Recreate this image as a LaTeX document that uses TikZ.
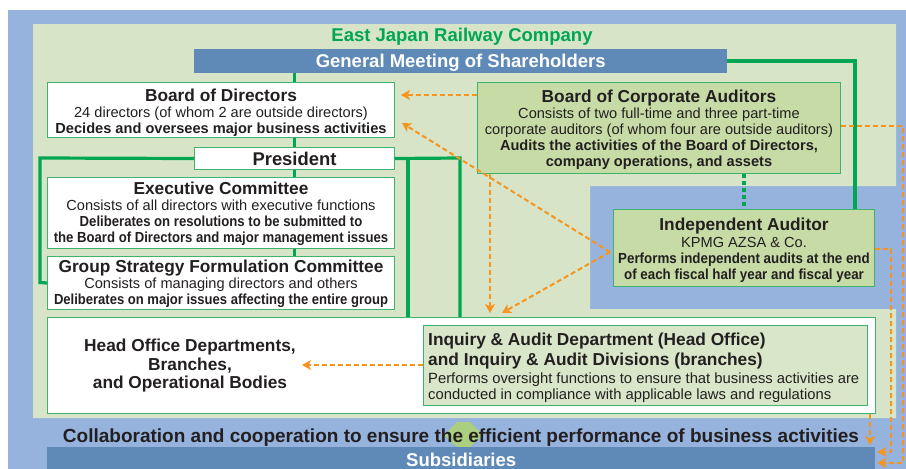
\documentclass[tikz,border=0pt]{standalone}
\usepackage{fontspec}
\usepackage{graphicx}
\setmainfont{Liberation Sans}
\usetikzlibrary{arrows.meta}
\definecolor{outblue}{HTML}{95B3DD}
\definecolor{areagreen}{HTML}{D8E4C8}
\definecolor{barblue}{HTML}{5F8AB7}
\definecolor{lgreen}{HTML}{00A651}
\definecolor{bgreen}{HTML}{3DB36E}
\definecolor{afill}{HTML}{C7DBA6}
\definecolor{ifill}{HTML}{D9E6C9}
\definecolor{oorange}{HTML}{F7941D}
\definecolor{txt}{HTML}{231F20}
\definecolor{hexgreen}{HTML}{A9CF7F}
\newcommand\boxtitle{\fontsize{17.3}{17}\selectfont\bfseries}
\newcommand\bigtitle{\fontsize{18.5}{20}\selectfont\bfseries}
\newcommand\narrowbf[2][0.9]{\scalebox{#1}[1]{\bfseries #2}}
\tikzset{
  wbox/.style={draw=bgreen, line width=1pt, fill=white, inner sep=0pt, anchor=north west},
  abox/.style={wbox, fill=afill},
  btext/.style={align=center, inner sep=0pt},
  bar/.style={fill=barblue, inner sep=0pt, anchor=north west, text=white, font=\bigtitle},
  gline/.style={draw=lgreen, line width=3.2pt},
  gdot/.style={draw=lgreen, line width=4pt, dash pattern=on 4pt off 3pt},
  oline/.style={draw=oorange, line width=2pt, dash pattern=on 5pt off 3pt},
  oarrow/.style={oline, -{Stealth[length=9pt,width=10pt,inset=2.5pt]}},
}
\begin{document}
\begin{tikzpicture}[x=1pt, y=-1pt, font=\fontsize{14.6}{16}\selectfont, text=txt]
\useasboundingbox (0,0) rectangle (906,469);
% backgrounds
\fill[outblue] (8,10) rectangle (906,469);
\fill[areagreen] (33,24) -- (896,24) -- (896,186) -- (590,186) -- (590,309) -- (896,309) -- (896,418) -- (33,418) -- cycle;
\fill[hexgreen] (444,435) -- (457,422) -- (470,422) -- (483,435) -- (470,447) -- (457,447) -- cycle;
% title and bars
\node[text=lgreen, font=\bigtitle] (co) at (462,37) {East Japan Railway Company};
\node[bar, minimum width=533pt, minimum height=24pt, text depth=0pt] (gm) at (194,49) {General Meeting of Shareholders};
\node[bar, minimum width=828pt, minimum height=26pt] (subs) at (47,447) {Subsidiaries};
\node[font=\fontsize{19}{20}\selectfont\bfseries] (collab) at (461,438) {Collaboration and cooperation to ensure the efficient performance of business activities};
% boxes
\node[wbox, minimum width=347pt, minimum height=55pt] (bod) at (47,82) {};
\node[btext] (bodtext) at ([yshift=-2.5pt]bod.center)
  {{\boxtitle Board of Directors}\\24 directors (of whom 2 are outside directors)\\\textbf{Decides and oversees major business activities}};
\node[wbox, minimum width=200pt, minimum height=22pt, font=\fontsize{18.4}{20}\selectfont\bfseries] (pres) at (194,147) {President};
\node[wbox, minimum width=347pt, minimum height=71pt] (exec) at (47,177) {};
\node[btext] (exectext) at ([yshift=-0.5pt]exec.center)
  {{\boxtitle Executive Committee}\\Consists of all directors with executive functions\\\narrowbf{Deliberates on resolutions to be submitted to}\\\narrowbf{the Board of Directors and major management issues}};
\node[wbox, minimum width=347pt, minimum height=53pt] (gsc) at (47,256) {};
\node[btext] (gsctext) at ([yshift=-0.5pt]gsc.center)
  {{\boxtitle Group Strategy Formulation Committee}\\Consists of managing directors and others\\\narrowbf[0.893]{Deliberates on major issues affecting the entire group}};
\node[abox, minimum width=363pt, minimum height=91pt] (bca) at (477,82) {};
\node[btext] (bcatext) at ([yshift=-2pt]bca.center)
  {{\boxtitle Board of Corporate Auditors}\\Consists of two full-time and three part-time\\corporate auditors (of whom four are outside auditors)\\\textbf{Audits the activities of the Board of Directors,}\\\textbf{company operations, and assets}};
\node[abox, minimum width=261pt, minimum height=77pt] (ia) at (613,209) {};
\node[btext] (iatext) at ([yshift=-2pt]ia.center)
  {{\boxtitle Independent Auditor}\\[1pt]KPMG AZSA \& Co.\\\narrowbf[0.915]{Performs independent audits at the end}\\\narrowbf[0.915]{of each fiscal half year and fiscal year}};
\node[wbox, minimum width=828pt, minimum height=96pt] (ho) at (47,317) {};
\node[font=\fontsize{17.3}{18.5}\selectfont\bfseries, align=center] (hotext) at (190,366)
  {Head Office Departments,\\Branches,\\and Operational Bodies};
\node[wbox, fill=ifill, minimum width=444pt, minimum height=80pt] (iad) at (423,325) {};
\node[align=left, inner sep=0pt, anchor=west, font=\fontsize{14.8}{16}\selectfont] (iadtext) at ([xshift=5pt,yshift=-2pt]iad.west)
  {{\boxtitle Inquiry \& Audit Department (Head Office)}\\[3pt]{\boxtitle and Inquiry \& Audit Divisions (branches)}\\[2pt]Performs oversight functions to ensure that business activities are\\conducted in compliance with applicable laws and regulations};
% green connectors
\draw[gline] (gm.south -| pres.north) -- (bod.north -| pres.north);
\draw[gline] (bod.south -| pres.north) -- (pres.north);
\draw[gline] (pres.south) -- (exec.north -| pres.south);
\draw[gline] (exec.south -| pres.south) -- (gsc.north -| pres.south);
\draw[gline] (pres.west) -- (40,158) -- (40,282.5) -- (gsc.west);
\draw[gline] (pres.east) -- (460,158) -- (ho.north -| 460,0);
\draw[gline] (408,158) -- (ho.north -| 408,0);
\draw[gline] (gm.east |- 0,61) -- (855,61) -- (ia.north -| 855,0);
\draw[gdot] (bca.south -| ia.north) -- (ia.north);
% orange audit arrows
\draw[oarrow, shorten >=6pt] (bca.west |- 0,95) -- (bod.east |- 0,95);
\coordinate (iapt) at (610,252);
\draw[oarrow] (iapt) -- (402,123);
\draw[oarrow] (iapt) -- (502,313);
\draw[oarrow] (bca.south -| 490,0) -- (490,313);
\draw[oarrow, shorten >=2pt] (bca.east |- 0,126) -- (903,126) -- (903,463) -- (subs.east |- 0,463);
\draw[oarrow, shorten >=2pt] (ia.east |- 0,249) -- (891,249) -- (891,452) -- (subs.east |- 0,452);
\draw[oarrow, shorten >=2pt] (ho.south -| 870,0) -- (subs.north -| 870,0);
\draw[oarrow] (iad.west |- 0,365) -- (302,365);
\end{tikzpicture}
\end{document}
